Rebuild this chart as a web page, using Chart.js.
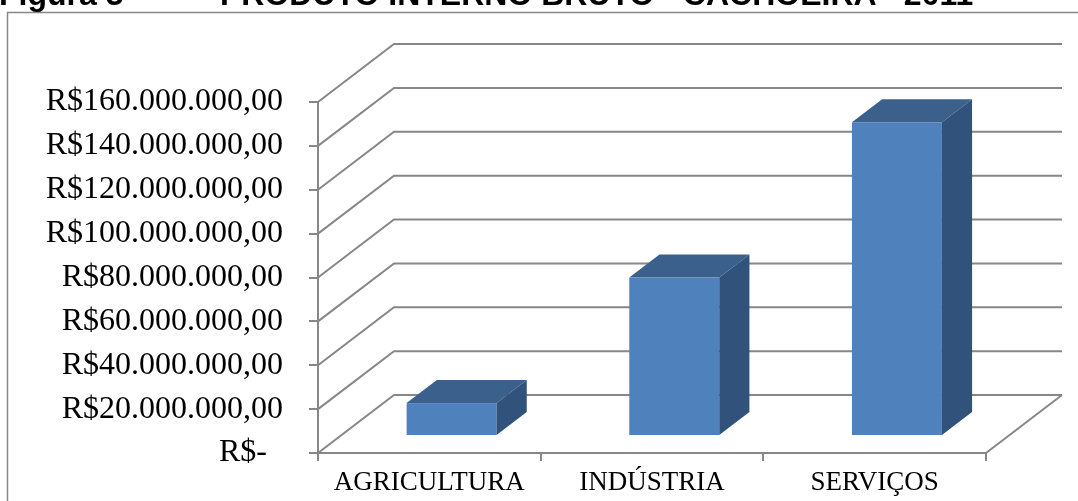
<!DOCTYPE html>
<html>
<head>
<meta charset="utf-8">
<script src="https://cdn.jsdelivr.net/npm/chart.js@4/dist/chart.umd.min.js"></script>
<style>
  html, body { margin: 0; padding: 0; background: #fff; overflow: hidden; }
  #wrap { position: relative; width: 1078px; height: 501px; overflow: hidden; }
  #wrap canvas { position: absolute; left: 0; top: 0; }
  .ttl { position: absolute; top: -21px; font: bold 32px "Liberation Sans", Arial, sans-serif;
         line-height: 31px; white-space: pre; color: #000; }
</style>
</head>
<body>
<div id="wrap">
  <canvas id="chart" width="1078" height="501"></canvas>
  <div class="ttl" style="left:-1px">Figura 3</div>
  <div class="ttl" style="left:220px">PRODUTO INTERNO BRUTO - CACHOEIRA - 2011</div>
</div>
<script>
// Sectors and their gross product (R$)
const categories = ['AGRICULTURA', 'INDÚSTRIA', 'SERVIÇOS'];
const pibValues = [15000000, 72200000, 143000000];
const yTickLabels = ['R$-  ', 'R$20.000.000,00', 'R$40.000.000,00', 'R$60.000.000,00',
  'R$80.000.000,00', 'R$100.000.000,00', 'R$120.000.000,00', 'R$140.000.000,00', 'R$160.000.000,00'];

const GRID = '#878787';
const FACE_FRONT = '#4F81BD';
const FACE_TOP = '#3B608C';
const FACE_SIDE = '#31527A';

// Depth of the 3D box (back wall offset) and where the columns sit inside it
const DX = 76, DY = -58;
const COL_FRONT = 0.293, COL_DEPTH = 0.397;

const box3d = {
  id: 'box3d',
  beforeDraw(chart) {
    const ctx = chart.ctx;
    ctx.save();
    ctx.strokeStyle = GRID;
    ctx.lineWidth = 1.5;
    ctx.strokeRect(7.5, 12.5, 1300, 700);
    ctx.restore();
  },
  beforeDatasetsDraw(chart) {
    const { ctx, chartArea: a, scales: { y } } = chart;
    ctx.save();
    ctx.strokeStyle = GRID;
    ctx.lineWidth = 2;
    ctx.lineJoin = 'miter';
    // side wall diagonals + back wall gridlines
    y.ticks.forEach(t => {
      const py = y.getPixelForValue(t.value);
      ctx.beginPath();
      ctx.moveTo(a.left, py);
      ctx.lineTo(a.left + DX, py + DY);
      ctx.lineTo(a.right + DX, py + DY);
      ctx.stroke();
    });
    // right edge of the floor
    ctx.beginPath();
    ctx.moveTo(a.right, a.bottom);
    ctx.lineTo(a.right + DX, a.bottom + DY);
    ctx.stroke();
    ctx.restore();
  },
  afterDatasetsDraw(chart) {
    const ctx = chart.ctx;
    const meta = chart.getDatasetMeta(0);
    const ox = DX * COL_FRONT, oy = DY * COL_FRONT;
    const dx = DX * COL_DEPTH, dy = DY * COL_DEPTH;
    ctx.save();
    meta.data.forEach(bar => {
      const { x, y, base, width } = bar.getProps(['x', 'y', 'base', 'width'], true);
      const l = x - width / 2 + ox, r = x + width / 2 + ox;
      const t = y + oy, b = base + oy;
      // front face
      ctx.fillStyle = FACE_FRONT;
      ctx.fillRect(l, t, r - l, b - t);
      // top face
      ctx.fillStyle = FACE_TOP;
      ctx.beginPath();
      ctx.moveTo(l, t);
      ctx.lineTo(l + dx, t + dy);
      ctx.lineTo(r + dx, t + dy);
      ctx.lineTo(r, t);
      ctx.closePath();
      ctx.fill();
      // side face
      ctx.fillStyle = FACE_SIDE;
      ctx.beginPath();
      ctx.moveTo(r, t);
      ctx.lineTo(r + dx, t + dy);
      ctx.lineTo(r + dx, b + dy);
      ctx.lineTo(r, b);
      ctx.closePath();
      ctx.fill();
    });
    ctx.restore();
  }
};

new Chart(document.getElementById('chart'), {
  type: 'bar',
  data: {
    labels: categories,
    datasets: [{
      data: pibValues,
      backgroundColor: 'rgba(0,0,0,0)',
      borderWidth: 0,
      barPercentage: 0.404,
      categoryPercentage: 1
    }]
  },
  options: {
    responsive: false,
    animation: false,
    events: [],
    layout: { padding: { left: 0, top: 102, right: 92, bottom: 0 } },
    plugins: { legend: { display: false }, tooltip: { enabled: false }, title: { display: false } },
    scales: {
      x: {
        grid: { display: true, drawOnChartArea: false, color: GRID, lineWidth: 2, tickLength: 8, offset: true },
        border: { display: true, color: GRID, width: 2 },
        ticks: { font: { family: 'Liberation Serif', size: 27 }, color: '#000', padding: 6, maxRotation: 0, autoSkip: false },
        afterFit(s) { s.height = 48; }
      },
      y: {
        min: 0, max: 160000000,
        grid: { display: true, drawOnChartArea: false, color: GRID, lineWidth: 2, tickLength: 9 },
        border: { display: true, color: GRID, width: 2 },
        ticks: {
          stepSize: 20000000, autoSkip: false,
          callback: (v, i) => yTickLabels[i],
          font: { family: 'Liberation Serif', size: 32 }, color: '#000', padding: 26
        },
        afterFit(s) { s.width = 318; }
      }
    }
  },
  plugins: [box3d]
});
</script>
</body>
</html>
